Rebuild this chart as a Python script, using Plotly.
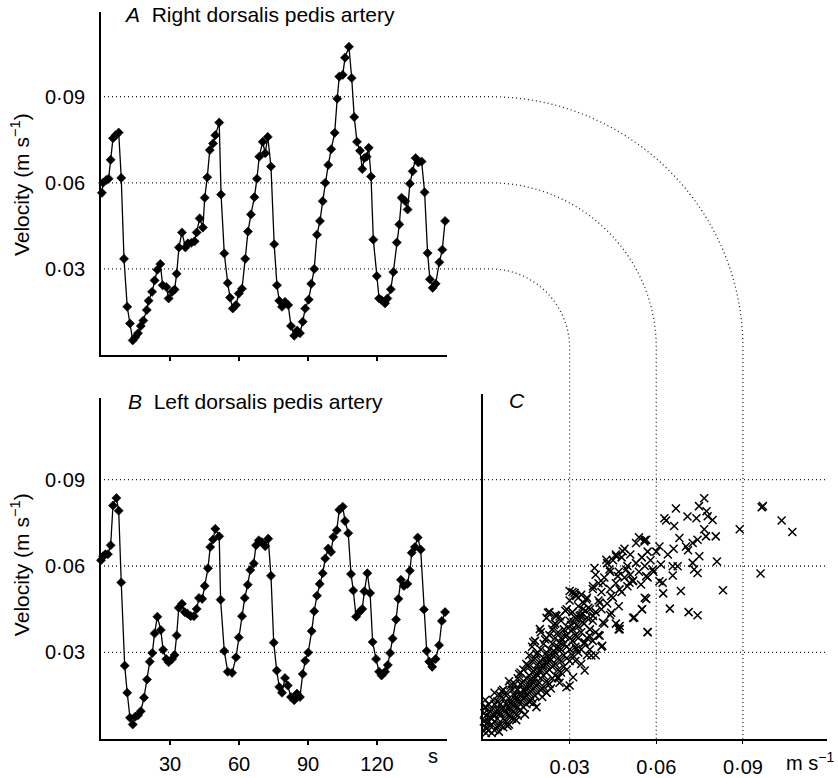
import plotly.graph_objects as go

# ---------------- data ----------------
# Panel A: right dorsalis pedis artery (time s, velocity m/s)
a_t = [0.4, 0.9, 2.3, 3.3, 4.2, 5.2, 6.4, 7.7, 8.8, 10.0, 11.4, 12.6, 13.8, 14.9, 16.1, 17.3, 18.4,
       19.9, 20.7, 22.2, 23.3, 24.5, 25.8, 26.8, 28.4, 29.4, 30.9, 32.0, 32.9, 33.9, 35.2, 36.7,
       37.8, 39.3, 40.7, 41.6, 42.9, 44.3, 45.1, 46.2, 47.3, 48.7, 49.7, 51.4, 52.2, 53.6, 55.1,
       56.1, 57.3, 58.7, 59.9, 61.3, 62.7, 63.9, 65.2, 66.7, 67.8, 68.8, 70.3, 71.4, 72.5, 73.9,
       75.3, 76.5, 77.5, 78.7, 80.0, 81.4, 82.6, 84.0, 85.3, 86.5, 87.7, 88.8, 90.3, 91.4, 92.7,
       93.9, 95.2, 96.4, 97.5, 98.8, 100.1, 101.6, 102.7, 103.6, 105.1, 106.1, 107.8, 109.0,
       110.1, 111.3, 112.6, 113.6, 114.5, 115.5, 116.4, 117.4, 118.4, 119.9, 120.9, 122.0, 123.5,
       124.5, 126.0, 127.1, 128.6, 129.7, 130.7, 132.3, 133.3, 134.3, 135.5, 136.8, 138.0, 139.4,
       140.7, 142.0, 143.0, 144.2, 145.5, 147.1, 148.4, 149.6]
a_v = [0.0565, 0.060, 0.061, 0.0614, 0.068, 0.0755, 0.0766, 0.0775, 0.0617, 0.0335, 0.0168, 0.011,
       0.0051, 0.0062, 0.0076, 0.0101, 0.012, 0.0157, 0.0189, 0.022, 0.026, 0.0297, 0.0317, 0.0243,
       0.0237, 0.0197, 0.022, 0.0228, 0.0283, 0.0375, 0.0427, 0.0375, 0.0389, 0.0391, 0.0396,
       0.0427, 0.0476, 0.0444, 0.0548, 0.0619, 0.0714, 0.0737, 0.0766, 0.081, 0.0559, 0.0354,
       0.0251, 0.020, 0.0162, 0.0174, 0.0214, 0.0231, 0.0335, 0.043, 0.049, 0.055, 0.0614, 0.0691,
       0.0743, 0.0703, 0.076, 0.0657, 0.0386, 0.0243, 0.0189, 0.0168, 0.0185, 0.0174, 0.0101,
       0.0067, 0.0085, 0.0076, 0.0116, 0.0162, 0.0193, 0.0248, 0.030, 0.0419, 0.0467, 0.0536,
       0.060, 0.0662, 0.0717, 0.0774, 0.0893, 0.097, 0.0976, 0.1036, 0.1074, 0.0965, 0.0829,
       0.0743, 0.0712, 0.0648, 0.0686, 0.0691, 0.0722, 0.0622, 0.0402, 0.0275, 0.0197, 0.0191,
       0.018, 0.0197, 0.0229, 0.0289, 0.0392, 0.0455, 0.0548, 0.0536, 0.0507, 0.0597, 0.064,
       0.0686, 0.0671, 0.0674, 0.0567, 0.0355, 0.0264, 0.0234, 0.0248, 0.0323, 0.0367, 0.0467]

# Panel B: left dorsalis pedis artery
b_t = [0.0, 0.9, 1.9, 3.0, 4.2, 5.2, 6.7, 7.7, 8.8, 10.3, 11.4, 12.6, 13.8, 14.9, 16.1, 17.3, 18.7,
       20.0, 21.2, 22.3, 23.3, 24.5, 26.0, 27.0, 28.4, 29.4, 30.9, 32.0, 32.9, 33.8, 35.2, 36.4,
       37.5, 39.0, 40.4, 41.6, 42.6, 44.0, 45.1, 46.5, 47.5, 48.7, 49.7, 51.4, 52.0, 53.6, 55.1,
       57.0, 58.7, 59.9, 61.3, 62.5, 63.8, 64.9, 66.4, 67.4, 68.6, 69.9, 71.4, 72.7, 73.9, 75.1,
       76.4, 77.5, 78.7, 80.0, 81.2, 82.6, 84.0, 85.2, 86.5, 87.7, 88.8, 90.1, 91.6, 92.7, 93.9,
       95.1, 96.4, 97.5, 98.8, 100.0, 101.0, 102.5, 103.6, 105.1, 106.1, 107.5, 108.7, 109.7,
       110.9, 112.3, 113.6, 114.5, 115.8, 117.0, 118.1, 119.6, 120.9, 122.0, 123.5, 124.7, 125.7,
       126.8, 128.3, 129.3, 130.4, 131.7, 133.2, 134.3, 135.1, 136.5, 137.7, 139.0, 140.4, 141.6,
       142.7, 144.0, 145.5, 147.0, 148.2, 149.6]
b_v = [0.062, 0.0634, 0.0641, 0.0641, 0.0672, 0.081, 0.0836, 0.0792, 0.0543, 0.0254, 0.016, 0.0073,
       0.005, 0.0077, 0.0082, 0.0096, 0.0143, 0.0206, 0.0268, 0.0298, 0.0366, 0.0424, 0.0378,
       0.0309, 0.0277, 0.0266, 0.0277, 0.0291, 0.0359, 0.0455, 0.0469, 0.044, 0.0435, 0.0426,
       0.0426, 0.0451, 0.0489, 0.0486, 0.0531, 0.0592, 0.0666, 0.0692, 0.0729, 0.0703, 0.0483,
       0.0305, 0.0233, 0.0229, 0.0283, 0.0352, 0.0426, 0.0489, 0.0535, 0.0586, 0.0609, 0.0672,
       0.0689, 0.0683, 0.0669, 0.0695, 0.0566, 0.0334, 0.0237, 0.018, 0.016, 0.0211, 0.0185,
       0.0145, 0.0134, 0.0157, 0.0145, 0.0225, 0.0271, 0.030, 0.0374, 0.0443, 0.0497, 0.0538,
       0.0575, 0.0626, 0.0661, 0.0649, 0.0701, 0.0724, 0.0795, 0.0806, 0.0756, 0.0714, 0.0572,
       0.0515, 0.0424, 0.044, 0.0451, 0.0512, 0.0575, 0.0506, 0.0336, 0.0277, 0.0233, 0.022,
       0.0233, 0.0256, 0.0298, 0.0348, 0.0414, 0.0486, 0.0552, 0.0531, 0.0538, 0.0584, 0.0646,
       0.0666, 0.0699, 0.0657, 0.0449, 0.0305, 0.0268, 0.025, 0.0277, 0.0325, 0.0409, 0.044]

# Panel C: right (x) vs left (y) velocity, read by region
c_low = [(0.001, 0.004), (0.001, 0.008), (0.001, 0.011), (0.002, 0.003), (0.002, 0.006), (0.002, 0.009),
         (0.003, 0.002), (0.003, 0.005), (0.003, 0.007), (0.003, 0.010), (0.004, 0.003), (0.004, 0.006),
         (0.004, 0.008), (0.004, 0.012), (0.005, 0.004), (0.005, 0.007), (0.005, 0.010), (0.005, 0.013),
         (0.002, 0.012), (0.001, 0.002), (0.004, 0.016), (0.0007, 0.011), (0.0053, 0.0047),
         (0.006, 0.005), (0.006, 0.009), (0.006, 0.012), (0.006, 0.015), (0.007, 0.004), (0.007, 0.007),
         (0.007, 0.011), (0.007, 0.014), (0.008, 0.006), (0.008, 0.009), (0.008, 0.012), (0.008, 0.016),
         (0.009, 0.005), (0.009, 0.008), (0.009, 0.011), (0.009, 0.014), (0.010, 0.007), (0.010, 0.010),
         (0.010, 0.013), (0.010, 0.017), (0.007, 0.017), (0.009, 0.020), (0.011, 0.009), (0.011, 0.012),
         (0.011, 0.015), (0.011, 0.019), (0.012, 0.008), (0.012, 0.011), (0.012, 0.014), (0.012, 0.017),
         (0.012, 0.021), (0.013, 0.010), (0.013, 0.013), (0.013, 0.016), (0.013, 0.019), (0.013, 0.023),
         (0.014, 0.011), (0.014, 0.014), (0.014, 0.017), (0.014, 0.020), (0.014, 0.024), (0.015, 0.012),
         (0.015, 0.015), (0.015, 0.018), (0.015, 0.021), (0.015, 0.026), (0.0093, 0.0082),
         (0.0128, 0.0099), (0.0185, 0.011), (0.0162, 0.0128)]
c_fill = [(0.0015, 0.0055), (0.0025, 0.0075), (0.0035, 0.0085), (0.0045, 0.0095), (0.0055, 0.0085),
          (0.0065, 0.0105), (0.0075, 0.0095), (0.0085, 0.0105), (0.0095, 0.0125), (0.0105, 0.0115),
          (0.0115, 0.0135), (0.0125, 0.0155), (0.0135, 0.0145), (0.0145, 0.0165), (0.0155, 0.0175),
          (0.0165, 0.0205), (0.0175, 0.0195), (0.0185, 0.0225), (0.0195, 0.0235), (0.0205, 0.0255),
          (0.0215, 0.0265), (0.0225, 0.0285), (0.0235, 0.0275), (0.0245, 0.0305), (0.0255, 0.0315),
          (0.0265, 0.0335), (0.0275, 0.0345), (0.0285, 0.0355), (0.0295, 0.0385), (0.0305, 0.0395),
          (0.0315, 0.0405), (0.0325, 0.0395), (0.0335, 0.0415), (0.0345, 0.0435), (0.0355, 0.0445),
          (0.0365, 0.0455), (0.0055, 0.0025), (0.0085, 0.0045), (0.0115, 0.0065), (0.0145, 0.0085),
          (0.0175, 0.0125), (0.0205, 0.0145), (0.0235, 0.0175), (0.0265, 0.0195), (0.0035, 0.0135),
          (0.0065, 0.0165), (0.0095, 0.0185), (0.0125, 0.0225), (0.0155, 0.0255), (0.0185, 0.0295),
          (0.0215, 0.0345), (0.0245, 0.0395), (0.0265, 0.0425), (0.0285, 0.0445), (0.0003, 0.006),
          (0.0005, 0.009), (0.0008, 0.0135), (0.0012, 0.0035)]
c_band = [(0.016, 0.013), (0.016, 0.016), (0.016, 0.019), (0.016, 0.022), (0.016, 0.025), (0.016, 0.029),
          (0.017, 0.014), (0.017, 0.017), (0.017, 0.020), (0.017, 0.023), (0.017, 0.027), (0.017, 0.032),
          (0.018, 0.015), (0.018, 0.018), (0.018, 0.021), (0.018, 0.024), (0.018, 0.028), (0.018, 0.034),
          (0.019, 0.016), (0.019, 0.019), (0.019, 0.022), (0.019, 0.026), (0.019, 0.030), (0.020, 0.017),
          (0.020, 0.021), (0.020, 0.024), (0.020, 0.027), (0.020, 0.031), (0.020, 0.037), (0.021, 0.018),
          (0.021, 0.022), (0.021, 0.025), (0.021, 0.028), (0.021, 0.033), (0.022, 0.016), (0.022, 0.020),
          (0.022, 0.023), (0.022, 0.026), (0.022, 0.030), (0.022, 0.035), (0.022, 0.042), (0.023, 0.019),
          (0.023, 0.024), (0.023, 0.027), (0.023, 0.031), (0.023, 0.036), (0.023, 0.044), (0.024, 0.021),
          (0.024, 0.025), (0.024, 0.029), (0.024, 0.033), (0.024, 0.038), (0.025, 0.022), (0.025, 0.026),
          (0.025, 0.030), (0.025, 0.035), (0.025, 0.040), (0.025, 0.043), (0.026, 0.021), (0.026, 0.024),
          (0.026, 0.028), (0.026, 0.032), (0.026, 0.037), (0.027, 0.023), (0.027, 0.027), (0.027, 0.031),
          (0.027, 0.035), (0.027, 0.041), (0.028, 0.025), (0.028, 0.029), (0.028, 0.033), (0.028, 0.038),
          (0.029, 0.024), (0.029, 0.028), (0.029, 0.032), (0.029, 0.036), (0.029, 0.045), (0.030, 0.027),
          (0.030, 0.031), (0.030, 0.035), (0.030, 0.041), (0.030, 0.048), (0.031, 0.051), (0.032, 0.050),
          (0.033, 0.049), (0.034, 0.050), (0.026, 0.0214), (0.030, 0.0185), (0.0289, 0.0179),
          (0.0312, 0.0214), (0.0352, 0.0237), (0.022, 0.016)]
c_mid = [(0.031, 0.029), (0.031, 0.034), (0.031, 0.038), (0.031, 0.044), (0.032, 0.027), (0.032, 0.032),
         (0.032, 0.036), (0.032, 0.042), (0.033, 0.030), (0.033, 0.035), (0.033, 0.039), (0.033, 0.046),
         (0.034, 0.026), (0.034, 0.031), (0.034, 0.037), (0.034, 0.043), (0.035, 0.033), (0.035, 0.040),
         (0.035, 0.047), (0.036, 0.029), (0.036, 0.035), (0.036, 0.042), (0.036, 0.049), (0.037, 0.031),
         (0.037, 0.038), (0.037, 0.045), (0.038, 0.034), (0.038, 0.041), (0.038, 0.052), (0.039, 0.029),
         (0.039, 0.037), (0.039, 0.044), (0.039, 0.057), (0.040, 0.036), (0.040, 0.048), (0.040, 0.054),
         (0.041, 0.032), (0.041, 0.045), (0.041, 0.051), (0.042, 0.040), (0.042, 0.056), (0.043, 0.047),
         (0.043, 0.061), (0.044, 0.043), (0.044, 0.052), (0.044, 0.058), (0.045, 0.049), (0.045, 0.062),
         (0.046, 0.040), (0.046, 0.054), (0.046, 0.064), (0.047, 0.038), (0.047, 0.046), (0.047, 0.058),
         (0.048, 0.051), (0.048, 0.063), (0.049, 0.056), (0.049, 0.066), (0.050, 0.053), (0.050, 0.060),
         (0.0386, 0.0593), (0.0427, 0.0622), (0.0461, 0.0634), (0.0484, 0.0651), (0.0438, 0.0588),
         (0.0467, 0.0565), (0.0496, 0.0588), (0.0507, 0.0542), (0.0473, 0.0519), (0.0444, 0.0496),
         (0.0415, 0.0542), (0.0381, 0.0530), (0.0358, 0.0484), (0.0404, 0.0473), (0.0444, 0.0438),
         (0.0473, 0.0392), (0.0415, 0.0404), (0.0381, 0.0427), (0.0346, 0.045), (0.0323, 0.0496),
         (0.030, 0.0513), (0.0317, 0.0507), (0.0335, 0.0427), (0.0369, 0.0358), (0.0404, 0.0358),
         (0.0375, 0.0289), (0.0352, 0.0335), (0.0323, 0.0312), (0.0413, 0.0323), (0.0473, 0.0381),
         (0.0225, 0.0438), (0.0254, 0.0427), (0.0197, 0.0381), (0.0174, 0.0335)]
c_high = [(0.051, 0.057), (0.051, 0.064), (0.052, 0.042), (0.052, 0.055), (0.053, 0.061), (0.053, 0.068),
          (0.054, 0.058), (0.054, 0.070), (0.055, 0.045), (0.055, 0.063), (0.056, 0.049), (0.056, 0.060),
          (0.056, 0.069), (0.057, 0.037), (0.057, 0.056), (0.057, 0.065), (0.058, 0.062), (0.059, 0.058),
          (0.060, 0.065), (0.0565, 0.0691), (0.0559, 0.0685), (0.0611, 0.0668), (0.068, 0.0697),
          (0.0703, 0.0668), (0.0726, 0.068), (0.0743, 0.0691), (0.0772, 0.0703), (0.0749, 0.0634),
          (0.0726, 0.0611), (0.0731, 0.0588), (0.0743, 0.0576), (0.0657, 0.0599), (0.0674, 0.0599),
          (0.0657, 0.0567), (0.0616, 0.0605), (0.0611, 0.0547), (0.0622, 0.0542), (0.0588, 0.0588),
          (0.0565, 0.0565), (0.0547, 0.0536), (0.0519, 0.0547), (0.0524, 0.0421), (0.0551, 0.045),
          (0.0565, 0.0486), (0.057, 0.0371), (0.064, 0.064), (0.066, 0.066), (0.071, 0.0655)]
c_out = [(0.0766, 0.0835), (0.0748, 0.0808), (0.0774, 0.0790), (0.0778, 0.0773), (0.0668, 0.0800),
         (0.0708, 0.0772), (0.0739, 0.0766), (0.0795, 0.0760), (0.0628, 0.0766), (0.0634, 0.0758),
         (0.0662, 0.0739), (0.0766, 0.0728), (0.0806, 0.0703), (0.0889, 0.0728), (0.0965, 0.0804),
         (0.0969, 0.0808), (0.1034, 0.0758), (0.1071, 0.0718), (0.0961, 0.0574), (0.081, 0.0616),
         (0.0831, 0.0516), (0.0685, 0.0513), (0.0624, 0.0505), (0.0647, 0.0452), (0.0712, 0.0440),
         (0.0743, 0.0429)]

ref_vals = [0.03, 0.06, 0.09]
ref_text = ["0·03", "0·06", "0·09"]
time_vals = [30, 60, 90, 120]
time_text = ["30", "60", "90", "120"]

# ---------------- layout geometry (pixels) ----------------
W, H = 838, 778
FONT = "Liberation Sans, Arial, Helvetica, sans-serif"

A_L, A_R, A_B, A_T = 101, 447, 358.7, 12      # panel A plot area
B_L, B_R, B_B, B_T = 101, 447, 746.5, 402     # panel B
C_L, C_R, C_B, C_T = 483, 827, 746.5, 398     # panel C
T_SCALE = 2.3            # px per second
V_SCALE_A = 2900.0       # px per m/s
V_SCALE_B = 2910.0
V_SCALE_CX = 2888.0


def px(x):
    return x / W


def py(y):
    return 1 - y / H


t_range = [0, (A_R - A_L) / T_SCALE]

fig = go.Figure()

line_style = dict(color="black", width=1.3)
mk = dict(symbol="diamond", size=7, color="black", line=dict(color="black", width=0.6))

fig.add_trace(go.Scatter(x=a_t, y=a_v, mode="lines+markers", line=line_style, marker=mk,
                         xaxis="x", yaxis="y", showlegend=False, cliponaxis=False))
fig.add_trace(go.Scatter(x=b_t, y=b_v, mode="lines+markers", line=line_style, marker=mk,
                         xaxis="x2", yaxis="y2", showlegend=False, cliponaxis=False))

c_all = c_low + c_fill + c_band + c_mid + c_high + c_out
fig.add_trace(go.Scatter(x=[p[0] for p in c_all], y=[p[1] for p in c_all], mode="markers",
                         marker=dict(symbol="x-thin", size=8, line=dict(color="black", width=1.5)),
                         xaxis="x3", yaxis="y3", showlegend=False, cliponaxis=False))

axis_common = dict(showline=True, linecolor="black", linewidth=2, showgrid=False, zeroline=False,
                   tickfont=dict(family=FONT, size=20, color="black"), fixedrange=True)

fig.update_layout(
    width=W, height=H, margin=dict(l=0, r=0, t=0, b=0),
    paper_bgcolor="white", plot_bgcolor="rgba(0,0,0,0)",
    xaxis=dict(axis_common, domain=[px(A_L), px(A_R)], range=t_range, anchor="y",
               tickvals=time_vals, ticks="outside", ticklen=4, tickwidth=1.5, tickcolor="black",
               showticklabels=False),
    yaxis=dict(axis_common, domain=[py(A_B), py(A_T)], range=[0, (A_B - A_T) / V_SCALE_A],
               anchor="x", tickvals=ref_vals, ticktext=ref_text, ticks="", ticklabelstandoff=10),
    xaxis2=dict(axis_common, domain=[px(B_L), px(B_R)], range=t_range, anchor="y2",
                tickvals=time_vals, ticktext=time_text, ticks="outside", ticklen=4, tickwidth=1.5,
                tickcolor="black", ticklabelstandoff=2),
    yaxis2=dict(axis_common, domain=[py(B_B), py(B_T)], range=[0, (B_B - B_T) / V_SCALE_B],
                anchor="x2", tickvals=ref_vals, ticktext=ref_text, ticks="", ticklabelstandoff=10),
    xaxis3=dict(axis_common, domain=[px(C_L), px(C_R)], range=[0, (C_R - C_L) / V_SCALE_CX],
                anchor="y3", tickvals=ref_vals, ticktext=ref_text, ticks="outside", ticklen=3,
                tickwidth=1.2, tickcolor="black", ticklabelstandoff=6),
    yaxis3=dict(axis_common, domain=[py(C_B), py(C_T)], range=[0, (C_B - C_T) / V_SCALE_B],
                anchor="x3", tickvals=ref_vals, showticklabels=False, ticks=""),
)

# ---------------- dotted reference lines ----------------
dot = dict(color="#222", width=1.3, dash="1px,3px")
cx = C_L + 7            # arc centre (px)
cy = A_B - 7
k = 0.5523
shapes = []
for v in ref_vals:
    ya = A_B - v * V_SCALE_A
    xc = C_L + v * V_SCALE_CX
    rx = xc - cx
    ry = cy - ya
    path = (f"M {px(A_L - 1)},{py(ya)} L {px(cx)},{py(ya)} "
            f"C {px(cx + k * rx)},{py(ya)} {px(xc)},{py(cy - k * ry)} {px(xc)},{py(cy)} "
            f"L {px(xc)},{py(C_B)}")
    shapes.append(dict(type="path", path=path, xref="paper", yref="paper", line=dot, layer="below"))
    yb = B_B - v * V_SCALE_B
    shapes.append(dict(type="line", xref="paper", yref="paper", x0=px(B_L - 1), x1=px(C_R + 1),
                       y0=py(yb), y1=py(yb), line=dot, layer="below"))
fig.update_layout(shapes=shapes)

# ---------------- text ----------------
NB = "\u00a0"
ann = [
    dict(x=px(122), y=py(15), text=f"<i>A</i>{NB}{NB}Right dorsalis pedis artery", xanchor="left", size=21),
    dict(x=px(126), y=py(406), text=f"<i>B</i>{NB}{NB}Left dorsalis pedis artery", xanchor="left", size=21),
    dict(x=px(507), y=py(405), text="<i>C</i>", xanchor="left", size=21),
    dict(x=px(20), y=py(187), text="Velocity (m s<sup>−1</sup>)", textangle=-90, xanchor="center", size=21),
    dict(x=px(20), y=py(571), text="Velocity (m s<sup>−1</sup>)", textangle=-90, xanchor="center", size=21),
    dict(x=px(433), y=py(764), text="s", xanchor="center", size=20),
    dict(x=px(836), y=py(769), text="m s<sup>−1</sup>", xanchor="right", size=20),
]
for a in ann:
    size = a.pop("size")
    a.update(xref="paper", yref="paper", showarrow=False, yanchor="middle",
             font=dict(family=FONT, size=size, color="black"))
fig.update_layout(annotations=ann)

fig.write_html("out.html", config={"displayModeBar": False},
               post_script="document.body.style.margin='0px';")
